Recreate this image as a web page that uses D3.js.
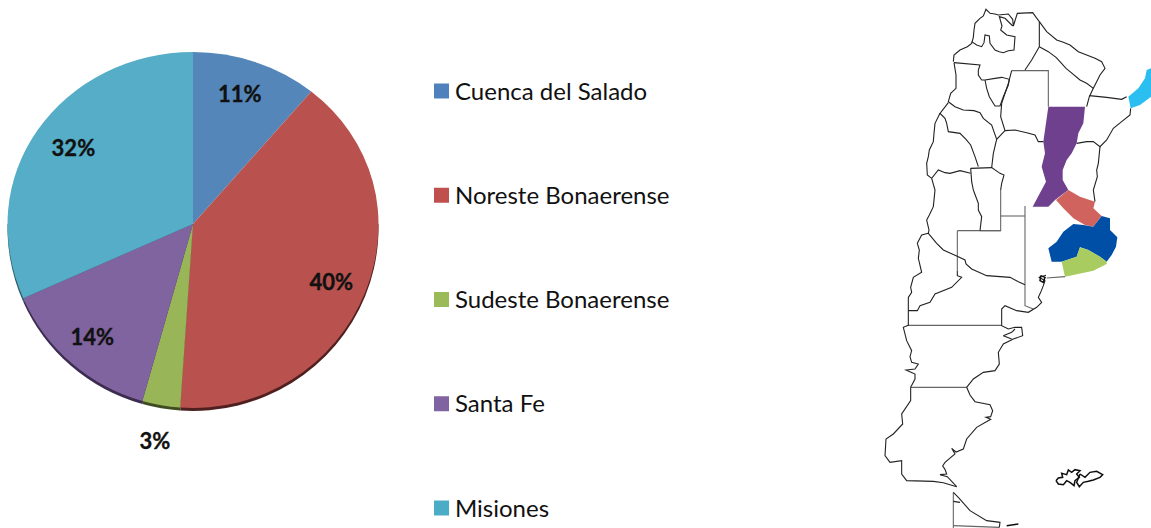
<!DOCTYPE html>
<html>
<head>
<meta charset="utf-8">
<title>Cuencas</title>
<script src="https://d3js.org/d3.v7.min.js"></script>
<style>
  html, body { margin: 0; background: #fff; }
  svg { display: block; }
  text { font-family: Lato, "Open Sans", sans-serif; fill: #111; }
  .pct { font-weight: bold; font-size: 22px; text-anchor: middle; dominant-baseline: central; stroke: #111; stroke-width: 0.35; }
  .leg { font-size: 24px; dominant-baseline: central; }
</style>
</head>
<body>
<svg width="1151" height="528"></svg>
<script>
const categories = ["Cuenca del Salado", "Noreste Bonaerense", "Sudeste Bonaerense", "Santa Fe", "Misiones"];
const sliceValues = [11, 40.1, 3.3, 14, 31.6];
const pctLabels = ["11%", "40%", "3%", "14%", "32%"];
const faceColors = ["#5586b9", "#b9514e", "#98b558", "#80649f", "#55adc7"];
const wallColors = ["#2b4563", "#4e201f", "#3f4c22", "#3b2c50", "#2a5a68"];
const legendColors = ["#4f81bd", "#c0504d", "#9bbb59", "#8064a2", "#4bacc6"];

// map outlines on a 3x grid (x 0-813, y 0-1584)
const mapLines = [
  [[220,185],[222,165],[240,150],[262,140],[275,130],[280,112],[282,90],[285,70],[300,55],[310,48],[318,28],[330,40],[345,42],[355,45],[385,42],[398,58],[400,78],[412,40],[458,38],[478,65],[478,140],[455,180],[435,210]],
  [[275,125],[290,135],[305,140],[312,128],[315,105],[328,108],[330,130],[345,150],[358,155],[370,158],[385,152],[402,150],[405,110],[380,105],[362,90],[366,78],[358,50],[375,55],[395,75],[400,78]],
  [[478,65],[500,95],[530,120],[548,126],[570,135],[595,155],[620,165],[645,175],[665,185],[675,205],[660,225],[650,245],[640,265],[628,290],[620,320]],
  [[478,140],[505,155],[528,172],[540,185],[558,205],[570,215],[600,240],[620,250],[640,265]],
  [[222,188],[300,195],[295,210],[295,225],[305,240],[315,240],[320,265],[328,290],[345,318],[360,318],[370,290],[385,255],[388,238],[365,232],[345,235],[315,240]],
  [[395,212],[385,250],[365,310],[362,350],[375,392],[350,418],[340,460],[335,503]],
  [[375,392],[405,390],[440,398],[465,405],[475,425],[490,425]],
  [[222,188],[228,225],[228,265],[212,280],[205,305],[225,320],[250,330],[282,332],[300,338],[310,355],[335,375],[350,418]],
  [[205,308],[180,340],[195,355],[200,370],[205,395],[240,400],[258,418],[272,435],[285,470],[295,500]],
  [[180,340],[165,370],[162,400],[160,425],[148,450],[145,470],[140,490],[142,525],[155,535],[175,510],[195,518],[210,520],[240,512],[272,520]],
  [[272,505],[335,503],[360,520],[372,525],[365,550],[362,570]],
  [[280,570],[295,610],[295,630],[305,650],[300,692]],
  [[272,505],[275,545],[280,570]],
  [[155,535],[165,570],[160,620],[148,645],[140,660],[147,690],[145,700],[170,730],[190,750],[230,768],[255,780],[258,792],[275,807],[320,827],[390,832],[415,845],[435,854]],
  [[232,812],[232,827],[245,832],[215,862],[165,882],[150,907],[120,917],[112,932],[85,932]],
  [[145,700],[125,705],[112,730],[118,750],[115,775],[125,817],[100,832],[92,862],[95,877],[85,892],[85,932],[85,977]],
  [[628,287],[680,292],[725,298],[740,290]],
  [[752,325],[750,345],[725,365],[700,385],[680,420],[660,440],[640,425],[620,425],[590,430]],
  [[660,440],[655,490],[650,510],[652,530],[640,570],[645,605]],
  [[498,826],[478,832],[495,842],[490,857],[482,877],[475,892],[485,907],[470,922],[445,937],[410,932],[375,917],[365,927],[365,977],[385,987],[405,982],[425,982],[428,1007],[400,1017],[370,1032],[355,1057],[358,1092],[345,1112],[310,1117],[280,1137],[260,1162],[270,1185],[285,1205],[330,1214],[338,1232],[332,1250],[318,1252],[332,1258],[290,1282],[260,1317],[250,1347],[228,1356],[215,1345],[225,1362],[195,1387],[188,1398],[195,1408],[200,1422],[180,1424],[202,1430],[230,1460]],
  [[370,1007],[395,997],[405,987]],
  [[370,1007],[395,1017]],
  [[85,976],[70,982],[80,1022],[95,1052],[90,1070],[95,1087],[115,1092],[105,1107],[78,1110],[105,1122],[105,1137],[92,1162]],
  [[92,1162],[92,1202],[65,1242],[68,1272],[40,1302],[18,1317],[15,1367],[30,1387],[65,1382],[65,1422],[80,1442],[160,1444],[190,1448],[230,1460]],
  [[220,1477],[235,1492],[270,1532],[320,1562],[360,1567],[358,1582]],
  [[220,1504],[240,1507]]
];
// the straight political borders print lighter
const grayLines = [
  [[395,212],[505,212],[505,320]],
  [[362,570],[362,692],[300,692]],
  [[232,692],[362,692]],
  [[362,648],[435,648]],
  [[232,692],[232,812]],
  [[435,618],[435,917],[460,927]],
  [[500,834],[555,830]],
  [[85,976],[365,976]],
  [[92,1162],[260,1162]],
  [[220,1477],[220,1584]],
  [[220,1577],[358,1582]]
];
const islandLines = [
  [[528,1442],[535,1434],[548,1432],[545,1420],[560,1424],[565,1410],[575,1417],[585,1409],[600,1412],[590,1422],[598,1432],[585,1442],[582,1457],[570,1447],[560,1442],[550,1454],[535,1452],[528,1442]],
  [[600,1422],[615,1432],[630,1417],[650,1414],[668,1424],[660,1432],[640,1440],[625,1444],[610,1447],[598,1460],[590,1447],[600,1422]],
  [[380,1577],[400,1574],[415,1572]],
  [[482,827],[495,832],[490,847],[480,842],[482,827]]
];
const mapAreas = [
  { name: "Santa Fe", color: "#6e3f8e", pts: [[505,320],[615,320],[610,370],[595,400],[590,430],[575,460],[560,480],[548,510],[548,540],[565,570],[525,600],[505,620],[458,620],[498,545],[485,500],[495,460],[490,425]] },
  { name: "Noreste Bonaerense", color: "#d0645d", pts: [[565,570],[600,590],[645,605],[640,625],[665,648],[640,680],[615,675],[580,655],[550,625],[528,600]] },
  { name: "Cuenca del Salado", color: "#0450a6", pts: [[665,648],[690,655],[690,690],[712,712],[708,740],[695,765],[680,785],[660,770],[625,750],[600,742],[590,770],[545,785],[515,785],[505,745],[530,725],[550,695],[580,672],[610,675],[640,680]] },
  { name: "Sudeste Bonaerense", color: "#a8cc60", pts: [[600,742],[625,750],[660,770],[680,785],[680,792],[640,812],[555,830],[545,785],[590,770]] },
  { name: "Misiones", color: "#29bff0", pts: [[813,205],[800,210],[795,235],[775,265],[745,290],[752,325],[780,315],[813,290]] }
];

const svg = d3.select("svg");
const defs = svg.append("defs");

// the pie is foreshortened more above its apex than below it
const cx = 193, cy = 224, R = 185.5, ryTop = 172, ryBottom = 184;
defs.append("clipPath").attr("id", "topHalf").append("rect").attr("x", 0).attr("y", 0).attr("width", 400).attr("height", cy);
defs.append("clipPath").attr("id", "bottomHalf").append("rect").attr("x", 0).attr("y", cy).attr("width", 400).attr("height", 300);

const pie = d3.pie().sort(null)(sliceValues);
const arc = d3.arc().innerRadius(0).outerRadius(R);
const labelRadius = [138, 150, 222, 152, 144];
const labelNudge = [[0, -1], [-1, 2], [0, -2], [-1, -2], [1, 2]];

function drawPie(parent, colors, ry, dy) {
  parent.append("g")
    .attr("transform", `translate(${cx},${cy + dy}) scale(1,${ry / R})`)
    .selectAll("path").data(pie).enter().append("path")
    .attr("d", arc)
    .attr("fill", (d, i) => colors[i]);
}
// dark wall first, only shows along the lower rim
const wall = svg.append("g").attr("clip-path", "url(#bottomHalf)");
drawPie(wall, wallColors, ryBottom - 1, 4);
drawPie(svg.append("g").attr("clip-path", "url(#topHalf)"), faceColors, ryTop, 0);
drawPie(svg.append("g").attr("clip-path", "url(#bottomHalf)"), faceColors, ryBottom, 0);

svg.selectAll("text.pct").data(pie).enter().append("text")
  .attr("class", "pct")
  .attr("x", (d, i) => cx + labelNudge[i][0] + labelRadius[i] * Math.sin((d.startAngle + d.endAngle) / 2))
  .attr("y", (d, i) => cy + labelNudge[i][1] - labelRadius[i] * Math.cos((d.startAngle + d.endAngle) / 2))
  .text((d, i) => pctLabels[i]);

// legend
const legY = d3.scalePoint().domain(categories).range([91, 508]);
const leg = svg.selectAll("g.legend").data(categories).enter().append("g")
  .attr("class", "legend")
  .attr("transform", d => `translate(434,${legY(d)})`);
leg.append("rect").attr("x", 0).attr("y", -7.5).attr("width", 15).attr("height", 15)
  .attr("fill", (d, i) => legendColors[i]);
leg.append("text").attr("class", "leg").attr("x", 21).attr("y", -1).text(d => d);

// map
defs.append("filter").attr("id", "soft").append("feGaussianBlur").attr("stdDeviation", 0.4);
const mapX = d3.scaleLinear().domain([0, 813]).range([880, 1151]);
const mapY = d3.scaleLinear().domain([0, 1584]).range([0, 528]);
const line = d3.line().x(d => mapX(d[0])).y(d => mapY(d[1]));
const map = svg.append("g").attr("filter", "url(#soft)");
map.selectAll("path.area").data(mapAreas).enter().append("path")
  .attr("class", "area")
  .attr("d", d => line(d.pts) + "Z")
  .attr("fill", d => d.color);
map.selectAll("path.gray").data(grayLines).enter().append("path")
  .attr("class", "gray")
  .attr("d", line)
  .attr("fill", "none")
  .attr("stroke", "#666")
  .attr("stroke-width", 1.1);
map.selectAll("path.border").data(mapLines).enter().append("path")
  .attr("class", "border")
  .attr("d", line)
  .attr("fill", "none")
  .attr("stroke", "#222")
  .attr("stroke-width", 1.1);
map.selectAll("path.island").data(islandLines).enter().append("path")
  .attr("class", "island")
  .attr("d", line)
  .attr("fill", "none")
  .attr("stroke", "#111")
  .attr("stroke-width", 1.5);
</script>
</body>
</html>
